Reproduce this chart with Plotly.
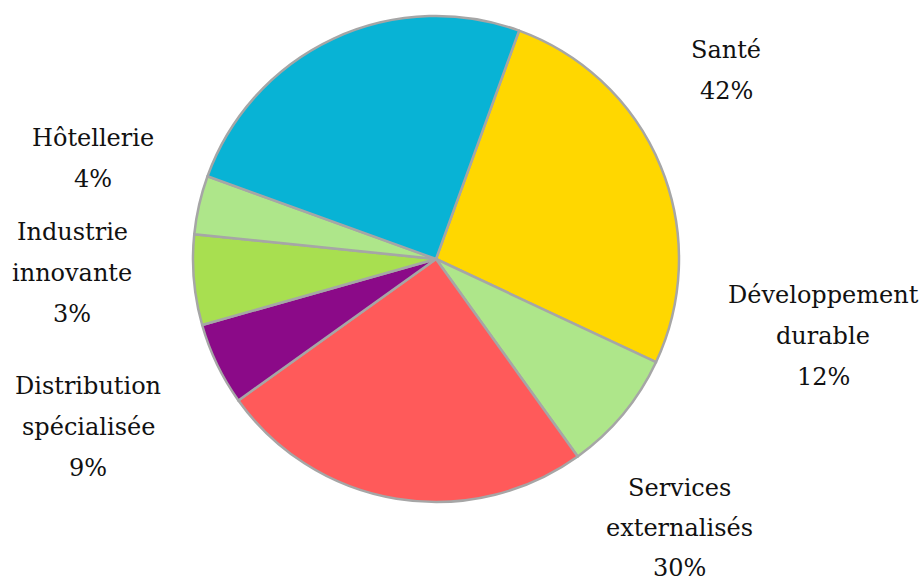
import plotly.graph_objects as go

# ---- data ----
sectors = ["Santé", "Développement durable", "Services externalisés",
           "Distribution spécialisée", "Industrie innovante", "Hôtellerie", "Autres"]
slice_shares = [26.4, 8.1, 25.0, 5.5, 6.0, 3.9, 25.0]
label_pcts = ["42%", "12%", "30%", "9%", "3%", "4%", None]
label_names = [["Santé"], ["Développement", "durable"], ["Services", "externalisés"],
               ["Distribution", "spécialisée"], ["Industrie", "innovante"], ["Hôtellerie"], None]
slice_colors = ["#FFD700", "#AEE68A", "#FF5A5A", "#8B0A88", "#A8DF50", "#AEE68A", "#08B3D5"]

# ---- layout helpers (pixel positions of label blocks: centre x, first baseline y, line step) ----
W, H = 923, 581
label_pos = [(726, 58, 41), (823, 303, 41), (679, 496, 40), (88, 394, 41), (72, 240, 41), (93, 146, 41), None]
FS = 24
BASE_TO_MID = 8.3

fig = go.Figure(go.Pie(
    labels=sectors,
    values=slice_shares,
    sort=False,
    direction="clockwise",
    rotation=20,
    marker=dict(colors=slice_colors, line=dict(color="#A6A6A6", width=2.5)),
    textinfo="none",
    hoverinfo="label+percent",
    domain=dict(x=[193 / W, 679 / W], y=[(H - 502) / H, (H - 16) / H]),
    showlegend=False,
))

annotations = []
for names, pct, pos in zip(label_names, label_pcts, label_pos):
    if names is None:
        continue
    lines = names + [pct]
    cx, by, step = pos
    for i, t in enumerate(lines):
        y = by + i * step - BASE_TO_MID
        annotations.append(dict(
            text=t, x=cx / W, y=1 - y / H, xref="paper", yref="paper",
            xanchor="center", yanchor="middle", showarrow=False,
            font=dict(family="DejaVu Serif", size=FS, color="#111111"),
        ))

fig.update_layout(
    width=W, height=H,
    margin=dict(l=0, r=0, t=0, b=0),
    paper_bgcolor="white", plot_bgcolor="white",
    annotations=annotations,
)

fig.write_html("out.html")
